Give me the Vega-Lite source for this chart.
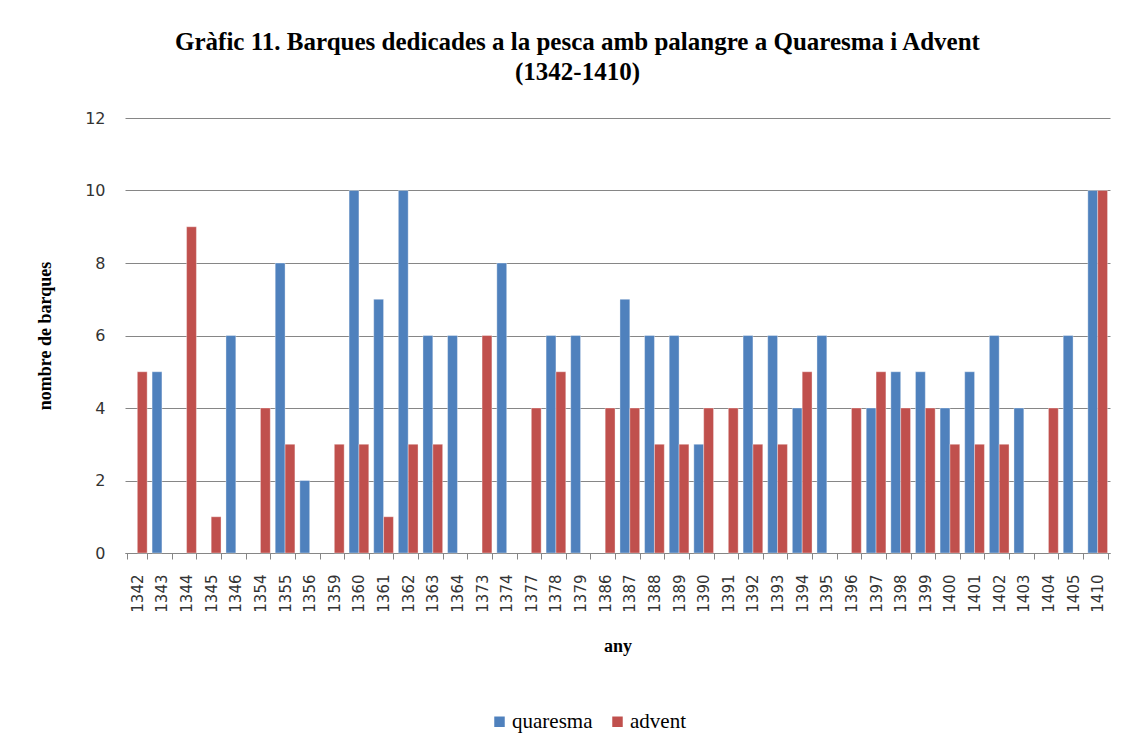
{
  "$schema": "https://vega.github.io/schema/vega-lite/v6.json",
  "autosize": "none",
  "width": 985,
  "height": 435,
  "padding": {"left": 125, "top": 118, "right": 20, "bottom": 192},
  "background": "white",
  "title": {
    "text": ["Gràfic 11. Barques dedicades a la pesca amb palangre a Quaresma i Advent", "(1342-1410)"],
    "font": "Liberation Serif",
    "fontSize": 25,
    "fontWeight": "bold",
    "color": "#000000",
    "anchor": "middle",
    "dx": -40,
    "offset": 25,
    "lineHeight": 30
  },
  "data": {
    "values": [
      {"any": "1342", "serie": "advent", "n": 5},
      {"any": "1343", "serie": "quaresma", "n": 5},
      {"any": "1344", "serie": "advent", "n": 9},
      {"any": "1345", "serie": "advent", "n": 1},
      {"any": "1346", "serie": "quaresma", "n": 6},
      {"any": "1354", "serie": "advent", "n": 4},
      {"any": "1355", "serie": "quaresma", "n": 8},
      {"any": "1355", "serie": "advent", "n": 3},
      {"any": "1356", "serie": "quaresma", "n": 2},
      {"any": "1359", "serie": "advent", "n": 3},
      {"any": "1360", "serie": "quaresma", "n": 10},
      {"any": "1360", "serie": "advent", "n": 3},
      {"any": "1361", "serie": "quaresma", "n": 7},
      {"any": "1361", "serie": "advent", "n": 1},
      {"any": "1362", "serie": "quaresma", "n": 10},
      {"any": "1362", "serie": "advent", "n": 3},
      {"any": "1363", "serie": "quaresma", "n": 6},
      {"any": "1363", "serie": "advent", "n": 3},
      {"any": "1364", "serie": "quaresma", "n": 6},
      {"any": "1373", "serie": "advent", "n": 6},
      {"any": "1374", "serie": "quaresma", "n": 8},
      {"any": "1377", "serie": "advent", "n": 4},
      {"any": "1378", "serie": "quaresma", "n": 6},
      {"any": "1378", "serie": "advent", "n": 5},
      {"any": "1379", "serie": "quaresma", "n": 6},
      {"any": "1386", "serie": "advent", "n": 4},
      {"any": "1387", "serie": "quaresma", "n": 7},
      {"any": "1387", "serie": "advent", "n": 4},
      {"any": "1388", "serie": "quaresma", "n": 6},
      {"any": "1388", "serie": "advent", "n": 3},
      {"any": "1389", "serie": "quaresma", "n": 6},
      {"any": "1389", "serie": "advent", "n": 3},
      {"any": "1390", "serie": "quaresma", "n": 3},
      {"any": "1390", "serie": "advent", "n": 4},
      {"any": "1391", "serie": "advent", "n": 4},
      {"any": "1392", "serie": "quaresma", "n": 6},
      {"any": "1392", "serie": "advent", "n": 3},
      {"any": "1393", "serie": "quaresma", "n": 6},
      {"any": "1393", "serie": "advent", "n": 3},
      {"any": "1394", "serie": "quaresma", "n": 4},
      {"any": "1394", "serie": "advent", "n": 5},
      {"any": "1395", "serie": "quaresma", "n": 6},
      {"any": "1396", "serie": "advent", "n": 4},
      {"any": "1397", "serie": "quaresma", "n": 4},
      {"any": "1397", "serie": "advent", "n": 5},
      {"any": "1398", "serie": "quaresma", "n": 5},
      {"any": "1398", "serie": "advent", "n": 4},
      {"any": "1399", "serie": "quaresma", "n": 5},
      {"any": "1399", "serie": "advent", "n": 4},
      {"any": "1400", "serie": "quaresma", "n": 4},
      {"any": "1400", "serie": "advent", "n": 3},
      {"any": "1401", "serie": "quaresma", "n": 5},
      {"any": "1401", "serie": "advent", "n": 3},
      {"any": "1402", "serie": "quaresma", "n": 6},
      {"any": "1402", "serie": "advent", "n": 3},
      {"any": "1403", "serie": "quaresma", "n": 4},
      {"any": "1404", "serie": "advent", "n": 4},
      {"any": "1405", "serie": "quaresma", "n": 6},
      {"any": "1410", "serie": "quaresma", "n": 10},
      {"any": "1410", "serie": "advent", "n": 10}
    ]
  },
  "mark": {"type": "bar", "stroke": "#ffffff", "strokeWidth": 0.6, "strokeOpacity": 0.6},
  "encoding": {
    "x": {
      "field": "any",
      "type": "nominal",
      "sort": "ascending",
      "scale": {"paddingInner": 0.2, "paddingOuter": 0.1},
      "axis": {
        "title": "any",
        "titleFont": "Liberation Serif",
        "titleFontSize": 18,
        "titleFontWeight": "bold",
        "titleColor": "#000000",
        "titlePadding": 25,
        "labelAngle": 270,
        "labelFont": "DejaVu Sans",
        "labelFontSize": 15,
        "labelColor": "#333333",
        "labelPadding": 15,
        "tickBand": "extent",
        "tickColor": "#868686",
        "tickSize": 6,
        "domainColor": "#868686",
        "grid": false
      }
    },
    "xOffset": {
      "field": "serie",
      "type": "nominal",
      "scale": {"domain": ["quaresma", "advent"]}
    },
    "y": {
      "field": "n",
      "type": "quantitative",
      "scale": {"domain": [0, 12]},
      "axis": {
        "title": "nombre de barques",
        "titleFont": "Liberation Serif",
        "titleFontSize": 18,
        "titleFontWeight": "bold",
        "titleColor": "#000000",
        "titlePadding": 30,
        "values": [0, 2, 4, 6, 8, 10, 12],
        "labelFont": "DejaVu Sans",
        "labelFontSize": 16,
        "labelColor": "#333333",
        "labelPadding": 20,
        "ticks": false,
        "domain": false,
        "gridColor": "#868686",
        "gridWidth": 1
      }
    },
    "color": {
      "field": "serie",
      "type": "nominal",
      "scale": {"domain": ["quaresma", "advent"], "range": ["#4F81BD", "#C0504D"]},
      "legend": {
        "title": null,
        "orient": "none",
        "direction": "horizontal",
        "legendX": 364,
        "legendY": 593,
        "symbolType": "square",
        "symbolSize": 110,
        "symbolStrokeWidth": 0,
        "labelFont": "Liberation Serif",
        "labelFontSize": 21,
        "labelColor": "#000000",
        "columnPadding": 14,
        "labelOffset": 2
      }
    }
  },
  "config": {
    "view": {"stroke": null}
  }
}
